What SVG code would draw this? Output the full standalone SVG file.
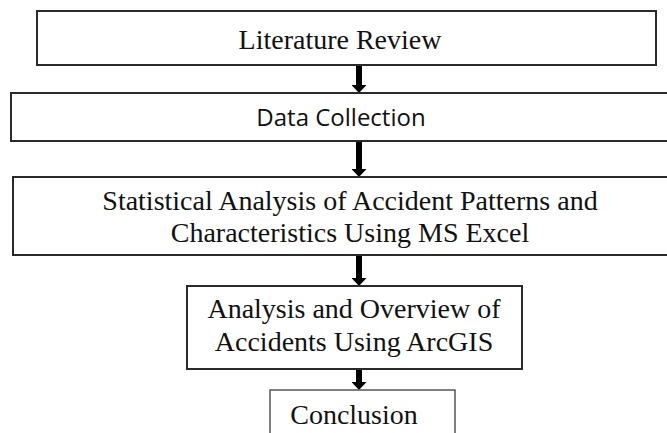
<svg xmlns="http://www.w3.org/2000/svg" width="667" height="433" viewBox="0 0 667 433">
<defs>
<style>
.box{fill:#fff;stroke:#2a2a2a;stroke-width:2}
.light{fill:#fff;stroke:#555;stroke-width:1.5}
.serif{font-family:"Liberation Serif","Times New Roman",serif;font-size:28px;fill:#111;text-anchor:middle}
.sans{font-family:"Open Sans","Liberation Sans",sans-serif;font-size:24px;fill:#111;text-anchor:middle}
.shaft{stroke:#000;stroke-width:6}
</style>
<marker id="ah" viewBox="0 0 10 10" refX="0" refY="5" markerWidth="8" markerHeight="15" markerUnits="userSpaceOnUse" orient="auto" preserveAspectRatio="none">
<path d="M0,0 L10,5 L0,10 z" fill="#000"/>
</marker>
</defs>
<rect width="667" height="433" fill="#fff"/>
<g id="connectors">
<line class="shaft" x1="359" y1="66" x2="359" y2="85" marker-end="url(#ah)"/>
<line class="shaft" x1="359" y1="142" x2="359" y2="169" marker-end="url(#ah)"/>
<line class="shaft" x1="359" y1="256" x2="359" y2="278" marker-end="url(#ah)"/>
<line class="shaft" x1="359" y1="370" x2="359" y2="382" marker-end="url(#ah)"/>
</g>
<g id="literature-review">
<rect class="box" x="37" y="11" width="619" height="54"/>
<text class="serif" x="340" y="49">Literature Review</text>
</g>
<g id="data-collection">
<rect class="box" x="11" y="93" width="660" height="48"/>
<text class="sans" x="341" y="126">Data Collection</text>
</g>
<g id="statistical-analysis">
<rect class="box" x="13" y="177" width="660" height="78"/>
<text class="serif" x="350" y="210">Statistical Analysis of Accident Patterns and</text>
<text class="serif" x="350" y="242">Characteristics Using MS Excel</text>
</g>
<g id="arcgis-analysis">
<rect class="box" x="187" y="286" width="335" height="83"/>
<text class="serif" x="354" y="318">Analysis and Overview of</text>
<text class="serif" x="354" y="351">Accidents Using ArcGIS</text>
</g>
<g id="conclusion">
<rect class="light" x="270" y="390" width="185" height="60"/>
<text class="serif" x="354" y="424">Conclusion</text>
</g>
</svg>
